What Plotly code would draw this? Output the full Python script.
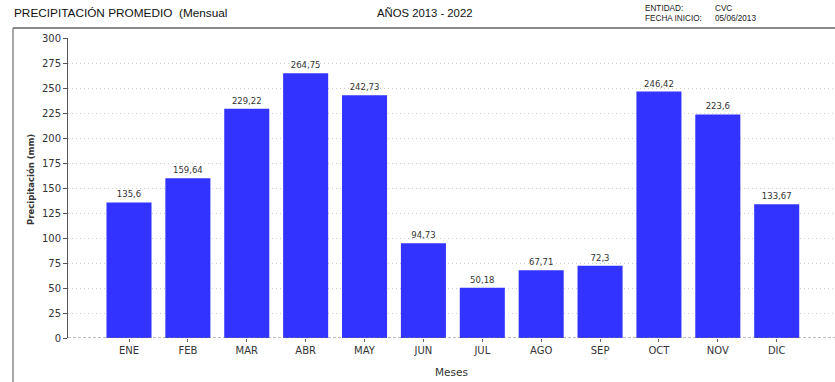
import plotly.graph_objects as go

months = ["ENE", "FEB", "MAR", "ABR", "MAY", "JUN", "JUL", "AGO", "SEP", "OCT", "NOV", "DIC"]
precip = [135.6, 159.64, 229.22, 264.75, 242.73, 94.73, 50.18, 67.71, 72.3, 246.42, 223.6, 133.67]
y_ticks = [0, 25, 50, 75, 100, 125, 150, 175, 200, 225, 250, 275, 300]

title_left = "PRECIPITACIÓN PROMEDIO  (Mensual"
title_mid = "AÑOS 2013 - 2022"
info_labels = ["ENTIDAD:", "FECHA INICIO:"]
info_values = ["CVC", "05/06/2013"]

W, H = 835, 382
ml, mr, mt, mb = 68, 0, 38, 44


def px(x):
    return (x - ml) / (W - ml - mr)


def py(y):
    return (H - mb - y) / (H - mt - mb)


labels = [("%g" % v).replace(".", ",") for v in precip]

fig = go.Figure()
fig.add_trace(go.Bar(
    x=list(range(len(months))),
    y=precip,
    text=labels,
    textposition="outside",
    textfont=dict(family="DejaVu Sans", size=8.5, color="#333333"),
    marker=dict(color="#3333ff", line=dict(width=0)),
    cliponaxis=False,
    hoverinfo="skip",
))

fig.update_layout(
    width=W, height=H,
    margin=dict(l=ml, r=mr, t=mt, b=mb),
    paper_bgcolor="white", plot_bgcolor="white",
    bargap=0.235,
    showlegend=False,
    font=dict(family="DejaVu Sans", color="#333333"),
    xaxis=dict(
        tickmode="array",
        tickvals=list(range(len(months))),
        ticktext=months,
        range=[-1.036, 11.99],
        showgrid=False, zeroline=False, showline=False,
        ticks="outside", ticklen=3, tickcolor="#666666",
        tickfont=dict(family="DejaVu Sans", size=10, color="#333333"),
    ),
    yaxis=dict(
        range=[0, 300],
        tickmode="array", tickvals=y_ticks,
        showgrid=True, gridcolor="#cfcfcf", griddash="1px,3px", gridwidth=1,
        zeroline=False,
        showline=True, linecolor="#555555", linewidth=1,
        ticks="outside", ticklen=4, tickcolor="#555555",
        tickfont=dict(family="DejaVu Sans", size=10, color="#333333"),
    ),
)

# baseline dashed
fig.add_shape(type="line", xref="paper", yref="y", x0=0, x1=1, y0=0, y1=0,
              line=dict(color="#777777", width=1, dash="3px,2px"), layer="above")

# frame lines
fig.add_shape(type="line", xref="paper", yref="paper", x0=px(13), x1=px(840), y0=py(28), y1=py(28),
              line=dict(color="#8a8a8a", width=2))
fig.add_shape(type="line", xref="paper", yref="paper", x0=px(13), x1=px(13), y0=py(28), y1=py(390),
              line=dict(color="#8a8a8a", width=1.5))

ann = []
ann.append(dict(text=title_left, x=px(12), y=py(13), xanchor="left", yanchor="middle",
                font=dict(family="Liberation Sans", size=11.8, color="#111111")))
ann.append(dict(text=title_mid, x=px(424), y=py(13), xanchor="center", yanchor="middle",
                font=dict(family="Liberation Sans", size=11.3, color="#111111")))
for i, (lab, val) in enumerate(zip(info_labels, info_values)):
    yy = 8.5 + i * 9.5
    ann.append(dict(text=lab, x=px(643), y=py(yy), xanchor="left", yanchor="middle",
                    font=dict(family="Liberation Sans", size=8.2, color="#222222")))
    ann.append(dict(text=val, x=px(713), y=py(yy), xanchor="left", yanchor="middle",
                    font=dict(family="Liberation Sans", size=8.2, color="#222222")))
ann.append(dict(text="Meses", x=0.5, y=py(371.5), xanchor="center", yanchor="middle",
                font=dict(family="DejaVu Sans", size=10.5, color="#333333")))
ann.append(dict(text="<b>Precipitación (mm)</b>", x=px(31), y=py(180), xanchor="center", yanchor="middle",
                textangle=-90, font=dict(family="DejaVu Sans", size=8.5, color="#333333")))
for a in ann:
    a.update(xref="paper", yref="paper", showarrow=False)
fig.update_layout(annotations=ann)

fig.write_html("out.html")
